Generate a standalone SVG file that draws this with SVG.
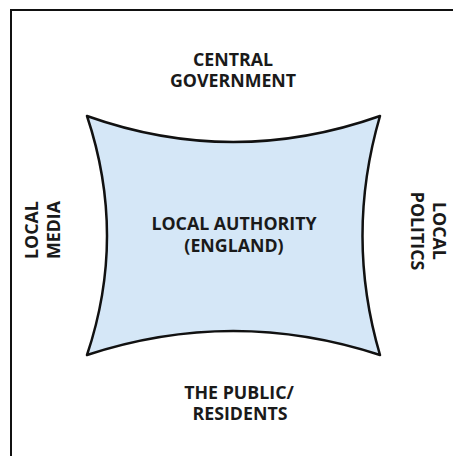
<svg xmlns="http://www.w3.org/2000/svg" width="453" height="456" viewBox="0 0 453 456">
<style>
.t{font-family:"Open Sans","Liberation Sans",sans-serif;font-weight:700;font-size:17.8px;fill:#1a1a1a;text-anchor:middle}
</style>
<rect x="0" y="0" width="453" height="456" fill="#ffffff"/>
<path d="M11 456 V10 H453" fill="none" stroke="#111" stroke-width="2"/>
<g id="local-authority">
<path d="M87 116 Q233 168 380 116 Q345 236 380 355 Q233 307 87 355 Q127 236 87 116 Z" fill="#d5e7f7" stroke="#111" stroke-width="2.5" stroke-linejoin="round"/>
<text class="t" x="234" y="230">LOCAL AUTHORITY</text>
<text class="t" x="234" y="252">(ENGLAND)</text>
</g>
<g id="central-government">
<text class="t" x="233" y="66">CENTRAL</text>
<text class="t" x="233" y="87">GOVERNMENT</text>
</g>
<g id="public-residents">
<text class="t" x="239" y="399">THE PUBLIC/</text>
<text class="t" x="240" y="420">RESIDENTS</text>
</g>
<g id="local-media">
<text class="t" transform="translate(38 230) rotate(-90)">LOCAL</text>
<text class="t" transform="translate(60 230) rotate(-90)">MEDIA</text>
</g>
<g id="local-politics">
<text class="t" transform="translate(433 231) rotate(90)">LOCAL</text>
<text class="t" transform="translate(411 231) rotate(90)">POLITICS</text>
</g>
<g id="connectors"></g>
</svg>
